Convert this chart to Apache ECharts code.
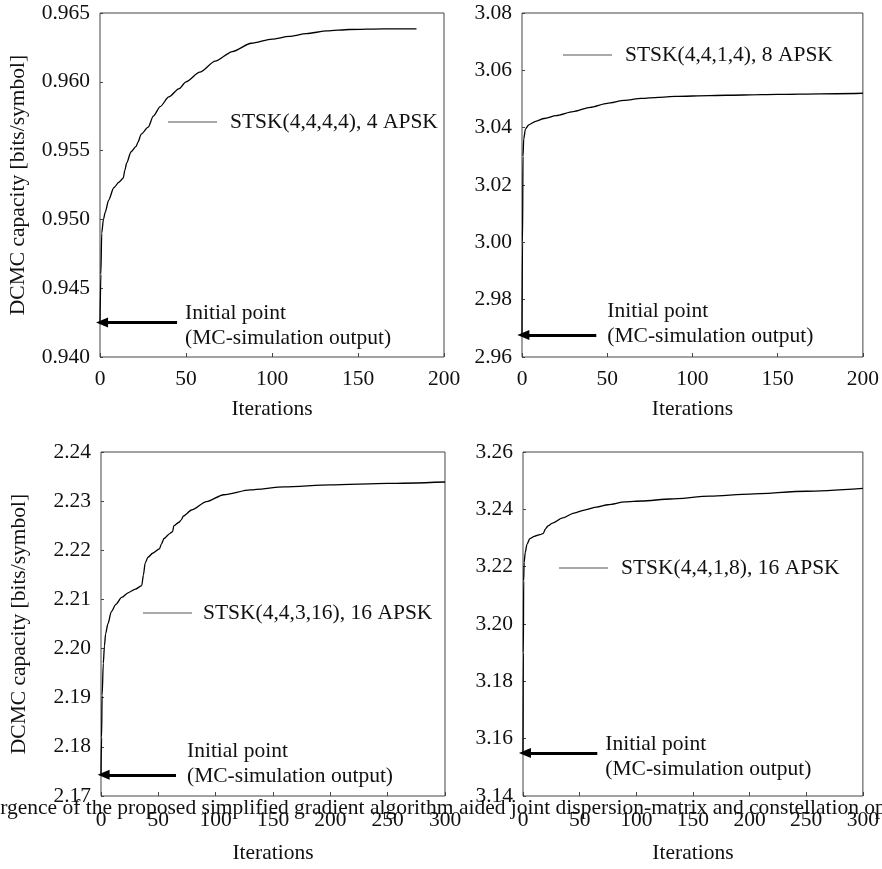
<!DOCTYPE html>
<html>
<head>
<meta charset="utf-8">
<script src="https://cdn.jsdelivr.net/npm/echarts@6/dist/echarts.min.js"></script>
<style>
html,body{margin:0;padding:0;background:#fff;}
#c{width:882px;height:869px;}
</style>
</head>
<body>
<div id="c"></div>
<script>
// ---- data ----
const names = ['STSK(4,4,4,4), 4 APSK', 'STSK(4,4,1,4), 8 APSK', 'STSK(4,4,3,16), 16 APSK', 'STSK(4,4,1,8), 16 APSK'];
const curve1 = [[0,0.9425],[0.5,0.9460],[1,0.9490],[2,0.9500],[3,0.9505],[5,0.9514],[8,0.9523],[11,0.9527],[13.5,0.9530],[14.5,0.9536],[15.5,0.9541],[18,0.9549],[21,0.9553],[22,0.9556],[24,0.9562],[28,0.9567],[31,0.9575],[35,0.9582],[40,0.9589],[46,0.9595],[50,0.9600],[58,0.9607],[67,0.9615],[77,0.9622],[88,0.9628],[100,0.9631],[110,0.9633],[120,0.9635],[132,0.9637],[145,0.9638],[165,0.96385],[184,0.96385]];
const curve2 = [[0,2.9677],[0.3,3.000],[0.6,3.030],[1,3.0360],[2,3.0395],[4,3.0410],[8,3.0422],[13,3.0432],[20,3.0442],[30,3.0456],[40,3.0471],[50,3.0485],[60,3.0495],[70,3.0502],[80,3.0506],[90,3.0509],[110,3.0512],[130,3.0514],[150,3.0516],[175,3.0518],[200,3.0520]];
const curve3 = [[0,2.1743],[0.5,2.182],[1,2.1905],[2,2.1970],[3,2.2005],[4,2.2030],[6,2.2050],[9,2.2075],[13,2.2090],[18,2.2104],[24,2.2114],[30,2.2121],[35.5,2.2128],[37,2.2150],[38.5,2.2174],[41,2.2186],[45,2.2194],[51,2.2203],[52.5,2.2212],[55,2.2224],[60,2.2234],[62.5,2.2238],[63.5,2.2250],[68,2.2257],[70,2.2262],[72,2.2270],[79,2.2282],[92,2.2299],[107,2.2313],[130,2.2323],[160,2.2329],[200,2.2333],[250,2.2336],[300,2.2339]];
const curve4 = [[0,3.155],[0.3,3.19],[0.6,3.215],[1,3.2215],[2,3.2250],[3.5,3.2278],[6,3.2298],[10,3.2306],[15,3.2312],[18,3.2316],[19.5,3.2330],[22,3.2342],[26,3.2352],[35,3.2370],[45,3.2387],[55,3.2398],[65,3.2408],[75,3.2416],[90,3.2426],[105,3.2429],[130,3.2436],[165,3.2446],[200,3.2453],[250,3.2463],[300,3.2473]];
// initial-point arrows: [tail x, tip x, value]
const arrows = [[44.8,1.2,0.9425],[43.6,0.8,2.9677],[65.4,2.3,2.1743],[65.6,1.7,3.155]];
const xTicks200 = ['0','50','100','150','200'];
const xTicks300 = ['0','50','100','150','200','250','300'];
const yTicks1 = ['0.940','0.945','0.950','0.955','0.960','0.965'];
const yTicks2 = ['2.96','2.98','3.00','3.02','3.04','3.06','3.08'];
const yTicks3 = ['2.17','2.18','2.19','2.20','2.21','2.22','2.23','2.24'];
const yTicks4 = ['3.14','3.16','3.18','3.20','3.22','3.24','3.26'];
const yRanges = [[0.940,0.965,0.005],[2.96,3.08,0.02],[2.17,2.24,0.01],[3.14,3.26,0.02]];
const xMax = [200,200,300,300];
const xTickSets = [xTicks200,xTicks200,xTicks300,xTicks300];
const yTickSets = [yTicks1,yTicks2,yTicks3,yTicks4];
const curves = [curve1,curve2,curve3,curve4];
const yName = 'DCMC capacity [bits/symbol]';
const xName = 'Iterations';
const initText = 'Initial point\n(MC-simulation output)';
const caption = 'Convergence of the proposed simplified gradient algorithm aided joint dispersion-matrix and constellation optimization';

// ---- layout / style ----
const FONT = "'Liberation Serif','Times New Roman',serif";
const FS = 21.5;
const TXT = '#111';
const grids = [
  {left:100, top:13, width:344, height:344},
  {left:522, top:13, width:344, height:344},
  {left:101, top:452, width:344, height:344},
  {left:523, top:452, width:343, height:344}
];
const xLabelMargin = [11,11,13,13];
const xNameGap = [41,41,46,46];
const legendPos = [
  {left:168, top:111, pad:8},
  {left:563, top:44, pad:8},
  {left:143, top:602, pad:6},
  {left:559, top:557, pad:8}
];
const textOffsetY = [3.5,-11,-11.5,3.5];
const textDist = [8,11,11,8];

const chart = echarts.init(document.getElementById('c'), null, {renderer:'canvas'});

const option = {
  animation:false,
  backgroundColor:'#fff',
  grid: grids.map(g => Object.assign({show:true, borderColor:'#444', borderWidth:1, backgroundColor:'transparent'}, g)),
  xAxis: grids.map((g,i) => ({
    type:'value', gridIndex:i, min:0, max:xMax[i], interval:50,
    name: xName, nameLocation:'middle', nameGap:xNameGap[i],
    nameTextStyle:{fontFamily:FONT, fontSize:FS, color:TXT},
    axisLine:{show:false},
    axisTick:{show:true, inside:true, length:4, lineStyle:{color:'#444'}},
    splitLine:{show:false},
    axisLabel:{fontFamily:FONT, fontSize:FS, color:TXT, margin:xLabelMargin[i],
      formatter:(v,idx)=> xTickSets[i][idx]}
  })),
  yAxis: grids.map((g,i) => ({
    type:'value', gridIndex:i, min:yRanges[i][0], max:yRanges[i][1], interval:yRanges[i][2],
    name: (i===0||i===2) ? yName : '', nameLocation:'middle', nameGap:71, nameRotate:90,
    nameTextStyle:{fontFamily:FONT, fontSize:FS, color:TXT},
    axisLine:{show:false},
    axisTick:{show:true, inside:true, length:3, lineStyle:{color:'#444'}},
    splitLine:{show:false},
    axisLabel:{fontFamily:FONT, fontSize:FS, color:TXT, margin:10,
      formatter:(v,idx)=> yTickSets[i][idx]}
  })),
  legend: legendPos.map((p,i) => ({
    data:[names[i]], left:p.left, top:p.top, padding:0, orient:'horizontal',
    icon:'rect', itemWidth:49, itemHeight:1, selectedMode:false,
    itemStyle:{color:'#555'},
    textStyle:{fontFamily:FONT, fontSize:FS, color:TXT, padding:[0,0,0,p.pad]}
  })),
  series: curves.map((c,i) => ({
    type:'line', name:names[i], xAxisIndex:i, yAxisIndex:i, data:c,
    showSymbol:false, symbol:'none', smooth:0.25, smoothMonotone:'x',
    lineStyle:{color:'#000', width:1.3}, itemStyle:{color:'#000'},
    markLine:{
      silent:true, animation:false, symbol:['none','triangle'], symbolSize:[10,12],
      lineStyle:{color:'#000', width:3, type:'solid'},
      label:{show:false},
      data:[[{coord:[arrows[i][0], arrows[i][2]]},{coord:[arrows[i][1], arrows[i][2]]}]]
    },
    markPoint:{
      silent:true, animation:false, symbol:'circle', symbolSize:0,
      itemStyle:{color:'rgba(0,0,0,0)'},
      label:{show:true, position:'right', distance:textDist[i], offset:[0,textOffsetY[i]],
        formatter:initText, fontFamily:FONT, fontSize:FS, color:TXT, lineHeight:25, align:'left'},
      data:[{coord:[arrows[i][0], arrows[i][2]]}]
    }
  })),
  graphic:[{
    type:'text', left:-56, top:797, z:100, silent:true,
    style:{text:caption, fontFamily:FONT, fontSize:FS, fill:TXT}
  }]
};
chart.setOption(option);
</script>
</body>
</html>
